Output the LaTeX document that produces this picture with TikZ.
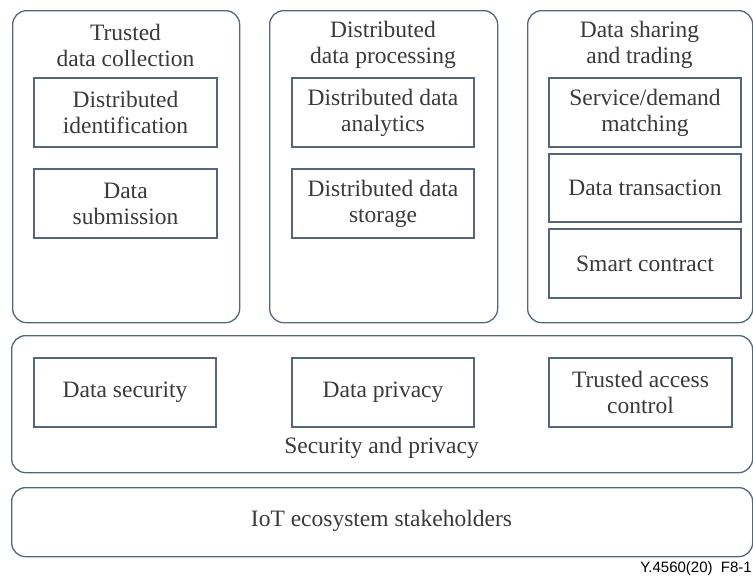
\documentclass[tikz,border=0pt]{standalone}
\usepackage{fontspec}
\setmainfont{Liberation Serif}
\newfontfamily\labelfont{Liberation Sans}
\definecolor{edge}{HTML}{56657A}
\definecolor{txt}{HTML}{3A3A3A}
\begin{document}
\begin{tikzpicture}[x=1pt,y=-1pt,
  outer/.style={draw=edge,line width=1.3pt,rounded corners=14pt},
  inner/.style={draw=edge,line width=1.3pt},
  txtstyle/.style={text=txt,font=\fontsize{23.5}{26}\selectfont,align=center,inner sep=0pt},
  every node/.style={txtstyle}]
\useasboundingbox (0,0) rectangle (753,576);
% outer containers
\node[outer,minimum width=227pt,minimum height=312pt,anchor=north west] (tdc) at (12,10) {};
\node[outer,minimum width=228pt,minimum height=312pt,anchor=north west] (ddp) at (269,10) {};
\node[outer,minimum width=225pt,minimum height=312pt,anchor=north west] (dst) at (527,10) {};
\node[outer,minimum width=741pt,minimum height=137pt,anchor=north west] (sap) at (11,335) {};
\node[outer,minimum width=741pt,minimum height=69pt,anchor=north west] (ies) at (11,487) {};
% titles
\node (tdct) at (125.5,45) {Trusted\\data collection};
\node (ddpt) at (383,45) {Distributed\\data processing};
\node (dstt) at (639.5,45) {Data sharing\\and trading};
\node (sapt) at (381.5,448) {Security and privacy};
\node (iest) at (381.5,521) {IoT ecosystem stakeholders};
% inner boxes
\node[inner,minimum width=183pt,minimum height=69pt] (di) at (125.5,112.5) {Distributed\\identification};
\node[inner,minimum width=183pt,minimum height=69pt] (ds) at (125.5,203.5) {Data\\submission};
\node[inner,minimum width=182pt,minimum height=69pt] (dda) at (383,112.5) {Distributed data\\analytics};
\node[inner,minimum width=182pt,minimum height=69pt] (dds) at (383,203.5) {Distributed data\\storage};
\node[inner,minimum width=192pt,minimum height=69pt] (sdm) at (645,112.5) {Service/demand\\matching};
\node[inner,minimum width=192pt,minimum height=68pt] (dt) at (645,188) {Data transaction};
\node[inner,minimum width=192pt,minimum height=69pt] (sc) at (645,263.5) {Smart contract};
\node[inner,minimum width=182pt,minimum height=69pt] (dsec) at (125,392.5) {Data security};
\node[inner,minimum width=182pt,minimum height=69pt] (dpr) at (383,392.5) {Data privacy};
\node[inner,minimum width=183pt,minimum height=69pt] (tac) at (640.5,392.5) {Trusted access\\control};
% figure label
\node[anchor=base east,font=\labelfont\fontsize{15}{17}\selectfont,text=black] (fig) at (752,572) {Y.4560(20)\ \ F8-1};
\end{tikzpicture}
\end{document}
